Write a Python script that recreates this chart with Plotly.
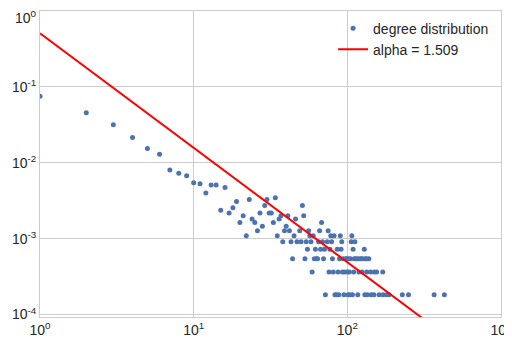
import plotly.graph_objects as go

# ---- data ----
# node degree and number of nodes having that degree
degrees = [1, 2, 3, 4, 5, 6, 7, 8, 9, 10, 11, 12, 13, 14, 15, 16, 17, 18, 19, 20,
           21, 22, 23, 24, 25, 26, 27, 28, 29, 30, 31, 32, 33, 34, 35, 36, 37, 38, 39, 40,
           41, 42, 43, 44, 45, 46, 47, 49, 50, 51, 52, 53, 54, 55, 56, 57, 58, 59, 60,
           61, 62, 63, 64, 65, 66, 67, 68, 69, 70, 71, 72, 74, 75, 76, 77, 78, 79, 80,
           81, 82, 83, 85, 86, 87, 88, 89, 90, 91, 92, 93, 94, 95, 96, 98, 99, 100,
           101, 102, 103, 104, 105, 106, 107, 108, 109, 110, 111, 112, 113, 116, 117,
           119, 120, 123, 125, 126, 129, 130, 131, 133, 134, 135, 138, 142, 143, 149,
           150, 155, 161, 170, 171, 180, 187, 228, 250, 367, 428]
counts = [413, 250, 174, 118, 85, 71, 44, 40, 37, 30, 29, 22, 28, 28, 13, 26, 12, 14, 17, 9,
          11, 6, 18, 10, 9, 7, 12, 8, 15, 18, 12, 12, 9, 19, 6, 10, 11, 5, 7, 8,
          11, 7, 5, 3, 6, 10, 5, 7, 5, 15, 11, 3, 5, 4, 7, 6, 5, 2, 6,
          3, 4, 3, 3, 5, 7, 4, 9, 5, 3, 4, 1, 5, 7, 2, 4, 6, 5, 3,
          2, 6, 1, 1, 4, 2, 1, 3, 6, 4, 5, 2, 3, 1, 2, 3, 3, 2,
          1, 3, 2, 1, 3, 5, 6, 1, 4, 2, 3, 5, 3, 3, 1,
          2, 3, 3, 2, 3, 4, 1, 3, 3, 2, 1, 3, 2, 1, 1,
          2, 2, 1, 2, 1, 1, 1, 1, 1, 1, 1]
n_nodes = 5495

# power-law fit shown as the red line
alpha = 1.509
fit_const = 0.51
fit_x = [1, 1000]

x_tick_vals = [1, 10, 100, 1000]
x_tick_text = ["10<sup>0</sup>", "10<sup>1</sup>", "10<sup>2</sup>", "10<sup>3</sup>"]
y_tick_vals = [1e-4, 1e-3, 1e-2, 1e-1, 1]
y_tick_text = ["10<sup>-4</sup>", "10<sup>-3</sup>", "10<sup>-2</sup>", "10<sup>-1</sup>", "10<sup>0</sup>"]

prob = [c / n_nodes for c in counts]
fit_y = [fit_const * x ** (-alpha) for x in fit_x]

fig = go.Figure()
fig.add_trace(go.Scatter(
    x=degrees, y=prob, mode="markers", name="degree distribution",
    marker=dict(color="#4C72B0", size=5, line=dict(width=0)),
))
fig.add_trace(go.Scatter(
    x=fit_x, y=fit_y, mode="lines", name="alpha = 1.509",
    line=dict(color="#FF0000", width=2),
))

tick_font = dict(family="Liberation Sans, Arial", size=14, color="#262626")
axis_common = dict(
    type="log", showgrid=True, gridcolor="#CCCCCC", gridwidth=1,
    showline=True, linecolor="#CCCCCC", linewidth=1, mirror=True,
    zeroline=False, ticks="", tickfont=tick_font, automargin=False,
    ticklabeloverflow="allow",
)
fig.update_xaxes(range=[0, 3], tickvals=x_tick_vals, ticktext=x_tick_text, **axis_common)
# the top y label would be cut by the page edge, so it is drawn as an annotation
fig.update_yaxes(range=[-4.032, 0], tickvals=y_tick_vals,
                 ticktext=y_tick_text[:-1] + [""], **axis_common)
fig.add_annotation(
    text=y_tick_text[-1], xref="paper", yref="paper", x=0, y=1,
    xanchor="right", yanchor="top", xshift=-2, yshift=4,
    showarrow=False, font=tick_font, borderpad=0,
)

# the page adds an 8px body margin, so the figure is sized to fit the window
fig.update_layout(
    width=504, height=344,
    margin=dict(l=32, r=11, t=3, b=35),
    paper_bgcolor="white", plot_bgcolor="white",
    font=dict(family="Liberation Sans, Arial", size=14, color="#262626"),
    showlegend=True,
    legend=dict(x=0.985, y=0.995, xanchor="right", yanchor="top",
                bgcolor="rgba(0,0,0,0)", borderwidth=0,
                font=dict(family="Liberation Sans, Arial", size=14, color="#262626"),
                tracegroupgap=0, itemwidth=30),
)

fig.write_html("out.html")
